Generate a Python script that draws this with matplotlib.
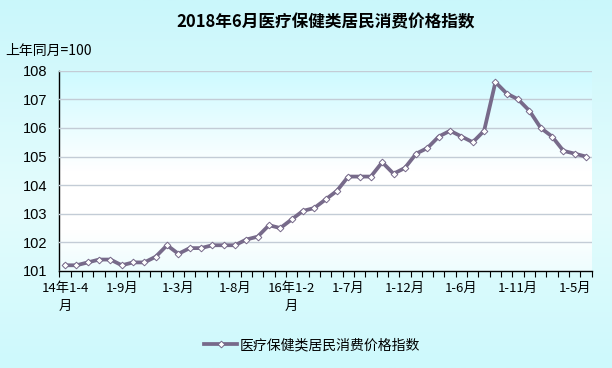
import numpy as np
import matplotlib
matplotlib.use("Agg")
import matplotlib.pyplot as plt
from matplotlib.colors import LinearSegmentedColormap
from matplotlib.lines import Line2D

plt.rcParams['font.family'] = ['Noto Sans CJK SC', 'DejaVu Sans']

# 2014-04 .. 2018-06, monthly (Jan merged into Feb)
values = [101.2, 101.2, 101.3, 101.4, 101.4, 101.2, 101.3, 101.3, 101.5, 101.9,
          101.6, 101.8, 101.8, 101.9, 101.9, 101.9, 102.1, 102.2, 102.6, 102.5,
          102.8, 103.1, 103.2, 103.5, 103.8, 104.3, 104.3, 104.3, 104.8, 104.4,
          104.6, 105.1, 105.3, 105.7, 105.9, 105.7, 105.5, 105.9, 107.6, 107.2,
          107.0, 106.6, 106.0, 105.7, 105.2, 105.1, 105.0]
tick_labels = ["14年1-4\n月", "1-9月", "1-3月", "1-8月", "16年1-2\n月",
               "1-7月", "1-12月", "1-6月", "1-11月", "1-5月"]
series_name = "医疗保健类居民消费价格指数"
title = "2018年6月医疗保健类居民消费价格指数"
y_unit = "上年同月=100"

LINE = "#776a8a"

fig = plt.figure(figsize=(6.12, 3.68), dpi=100)

# figure background gradient
bg = fig.add_axes([0, 0, 1, 1], zorder=-10)
bg_cmap = LinearSegmentedColormap.from_list(
    "bg", [(0, "#caf7fb"), (0.55, "#e4fcfd"), (1, "#cdf9fc")])
bg.imshow(np.linspace(0, 1, 256).reshape(-1, 1), aspect="auto", cmap=bg_cmap,
          extent=[0, 1, 0, 1], origin="upper")
bg.axis("off")

ax = fig.add_axes([0.0972, 0.2636, 0.8696, 0.5443])
n = len(values)
x = np.arange(n)

# plot area gradient
pa_cmap = LinearSegmentedColormap.from_list(
    "pa", [(0, "#cdfaff"), (0.5, "#ffffff"), (0.8, "#ffffff"), (1, "#eefdfe")])
ax.imshow(np.linspace(0, 1, 256).reshape(-1, 1), aspect="auto", cmap=pa_cmap,
          extent=[-0.5, n - 0.5, 101, 108], origin="upper", zorder=0)

ax.plot(x, values, color=LINE, lw=2.7, marker="D", ms=3.4,
        mfc="white", mec=LINE, mew=0.7, zorder=3, solid_joinstyle="round")

ax.set_xlim(-0.5, n - 0.5)
ax.set_ylim(101, 108)
ax.set_yticks(range(101, 109))
ax.grid(axis="y", color="#c3ccd6", lw=1, zorder=1)
ax.set_axisbelow(False)

ax.set_xticks(np.arange(0, n, 5))
ax.set_xticklabels(tick_labels, fontsize=9.5, linespacing=1.5, va="top")
ax.set_xticks(np.arange(-0.5, n, 1), minor=True)
ax.tick_params(axis="x", which="major", length=0, pad=8)
ax.tick_params(axis="x", which="minor", length=4, direction="out", width=0.8)
ax.tick_params(axis="y", length=0, pad=9, labelsize=10.5)
for lbl in ax.get_yticklabels():
    lbl.set_fontfamily(["Liberation Sans", "DejaVu Sans"])

for s in ("top", "right"):
    ax.spines[s].set_visible(False)
for s in ("left", "bottom"):
    ax.spines[s].set_color("black")
    ax.spines[s].set_linewidth(1)

fig.text(0.532, 0.94, title, ha="center", va="center", fontsize=12,
         fontweight="bold")
fig.text(0.008, 0.862, y_unit, ha="left", va="center", fontsize=10)

handle = Line2D([], [], color=LINE, lw=2.7, marker="D", ms=3.4,
                mfc="white", mec=LINE, mew=0.7)
fig.legend([handle], [series_name], loc="center", bbox_to_anchor=(0.51, 0.062),
           frameon=False, fontsize=10, handlelength=2.4, handletextpad=0.2)

fig.savefig("out.png", dpi=100)
